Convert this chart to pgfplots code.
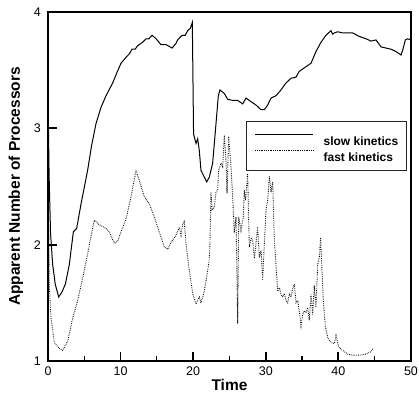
\documentclass[border=0pt]{standalone}
\usepackage{fontspec}
\setmainfont{Liberation Sans}
\usepackage{pgfplots}
\pgfplotsset{compat=1.18}
\begin{document}
\begin{tikzpicture}
\begin{axis}[
  scale only axis,
  width=363bp, height=349bp,
  xmin=0, xmax=50, ymin=1, ymax=4,
  xtick={0,10,20,30,40,50},
  minor xtick={5,15,25,35,45},
  ytick={1,2,3,4},
  xtick pos=bottom, ytick pos=left,
  tick align=inside,
  major tick length=9bp, minor tick length=5bp,
  every major tick/.style={line width=1.8bp, black},
  every minor tick/.style={line width=1.2bp, black},
  axis line style={line width=1.2bp},
  /pgf/number format/assume math mode=true,
  tick label style={font=\fontsize{12.5bp}{15bp}\selectfont, inner sep=0pt},
  xticklabel style={anchor=north, yshift=-6bp},
  yticklabel style={anchor=east, xshift=-7bp},
  xlabel={Time},
  ylabel={Apparent Number of Processors},
  xlabel style={at={([yshift=-29bp]axis description cs:0.5,0)}, anchor=base, inner sep=0pt, font=\bfseries\fontsize{15.5bp}{18bp}\selectfont},
  ylabel style={at={([xshift=-28bp]axis description cs:0,0.5)}, anchor=base, rotate=0, inner sep=0pt, font=\bfseries\fontsize{15.5bp}{18bp}\selectfont},
  legend style={at={(rel axis cs:0.5455,0.6877)}, anchor=north west,
    draw=black!85, line width=1.2bp, fill=white,
    font=\bfseries\fontsize{12bp}{14bp}\selectfont,
    inner xsep=8bp, inner ysep=9bp, row sep=1bp,
    nodes={inner sep=0pt, text height=15bp, text depth=0bp}},
  legend cell align=left,
  legend image code/.code={\draw[#1] (0bp,4bp) -- (58bp,4bp); \path (68bp,4bp);},
]
\addplot[black, line width=1bp] coordinates {
(0,3.30) (0.15,2.60) (0.35,2.10) (0.64,1.83) (1.0,1.66) (1.47,1.55) (1.9,1.59)
(2.39,1.66) (2.94,1.83) (3.49,2.11) (3.95,2.14) (4.55,2.35) (5.46,2.64) (6.0,2.85)
(6.61,3.04) (7.30,3.18) (7.99,3.28) (8.91,3.39) (9.5,3.48) (10.06,3.56) (10.74,3.61)
(11.2,3.64) (11.57,3.68) (12.0,3.68) (12.35,3.71) (13.04,3.74) (13.50,3.77) (13.9,3.77)
(14.33,3.80) (14.88,3.77) (15.56,3.72) (16.25,3.72) (17.1,3.69) (17.63,3.73) (17.86,3.76)
(18.46,3.80) (18.9,3.80) (19.24,3.84) (19.6,3.86) (19.88,3.91) (20.05,2.95) (20.39,2.87)
(20.61,2.91) (20.84,2.81) (21.07,2.64) (21.53,2.58) (21.86,2.54) (22.22,2.58) (22.68,2.70)
(23.14,3.04) (23.46,3.28) (23.69,3.33) (24.28,3.30) (24.75,3.25) (25.44,3.24) (26.13,3.24)
(26.82,3.21) (27.27,3.26) (27.96,3.23) (28.65,3.20) (29.34,3.16) (29.80,3.16) (30.26,3.20)
(30.72,3.26) (31.40,3.28) (32.09,3.33) (32.78,3.39) (33.47,3.43) (34.16,3.44) (34.61,3.49)
(35.54,3.53) (36.23,3.56) (36.91,3.66) (37.60,3.74) (38.29,3.80) (38.98,3.84) (39.2,3.81)
(39.44,3.82) (39.90,3.83) (40.59,3.82) (41.28,3.82) (41.97,3.82) (42.88,3.79) (43.80,3.77)
(44.49,3.75) (45.18,3.76) (45.87,3.70) (46.56,3.69) (47.25,3.68) (47.93,3.66) (48.62,3.63)
(48.85,3.67) (49.22,3.76) (49.54,3.77) (50,3.76)
};
\addlegendentry{slow kinetics}
\addplot[black, line width=0.9bp, dash pattern=on 0.7bp off 1.1bp] coordinates {
(0,2.9) (0.1,2.2) (0.18,1.66) (0.41,1.37) (0.87,1.16) (1.5,1.11) (2.02,1.09) (2.71,1.17)
(3.40,1.37) (4.09,1.52) (5.0,1.78) (5.46,1.92) (5.69,2.0) (6.38,2.21) (7.07,2.17) (7.99,2.14)
(8.45,2.11) (9.14,2.01) (9.60,2.03) (10.06,2.11) (10.74,2.22) (11.43,2.41) (12.12,2.64)
(12.58,2.55) (13.27,2.41) (13.96,2.35) (14.64,2.24) (15.33,2.11) (16.02,1.98) (16.49,1.96)
(16.94,2.02) (17.63,2.08) (18.09,2.15) (18.32,2.08) (18.55,2.18) (18.77,2.20) (19.0,2.01)
(19.46,1.78) (19.93,1.58) (20.39,1.49) (20.84,1.55) (21.07,1.50) (21.53,1.60) (22.0,1.78)
(22.22,1.88) (22.3,2.0) (22.45,2.45) (22.6,2.30) (22.91,2.32) (23.14,2.45) (23.37,2.47)
(23.51,2.64) (23.83,2.70) (24.06,2.67) (24.29,2.94) (24.52,2.72) (24.66,2.44) (24.89,2.93)
(25.21,2.66) (25.44,2.41) (25.66,2.10) (25.90,2.24) (26.13,1.32) (26.27,2.24) (26.58,2.12)
(26.90,2.24) (27.04,2.47) (27.2,2.38) (27.50,2.61) (27.73,1.98) (28.0,2.06) (28.20,2.03)
(28.42,1.88) (28.6,1.98) (28.88,2.15) (29.11,1.89) (29.35,1.95) (29.57,1.70) (29.80,2.01)
(30.03,2.30) (30.26,2.38) (30.49,2.59) (30.72,2.45) (30.95,2.54) (31.17,2.05) (31.40,1.83)
(31.64,1.60) (31.9,1.63) (32.09,1.57) (32.32,1.55) (32.55,1.58) (32.78,1.52) (33.02,1.50)
(33.25,1.58) (33.47,1.55) (33.70,1.62) (33.93,1.66) (34.16,1.50) (34.40,1.52) (34.61,1.43)
(34.85,1.30) (35.08,1.40) (35.30,1.43) (35.54,1.42) (35.77,1.46) (35.99,1.35) (36.23,1.57)
(36.46,1.40) (36.68,1.65) (36.91,1.46) (37.15,1.83) (37.37,1.89) (37.55,2.06) (37.74,1.78)
(37.92,1.52) (38.20,1.30) (38.53,1.20) (38.98,1.16) (39.44,1.15) (39.67,1.22) (40.04,1.12)
(40.59,1.09) (41.28,1.06) (41.97,1.05) (42.88,1.05) (43.80,1.06) (44.49,1.08) (44.81,1.11)
};
\addlegendentry{fast kinetics}
\draw[line width=2bp, black] (rel axis cs:0,1) -- (rel axis cs:0,0) -- (rel axis cs:1,0) -- (rel axis cs:1,1);
\coordinate (bl) at (rel axis cs:0,0);
\coordinate (tr) at (rel axis cs:1,1);
\end{axis}
\pgfresetboundingbox
\path ([shift={(-48bp,-33bp)}]bl) rectangle ([shift={(8bp,12bp)}]tr);
\end{tikzpicture}
\end{document}
